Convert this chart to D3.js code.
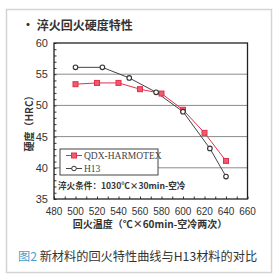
<!DOCTYPE html>
<html><head><meta charset="utf-8">
<script src="https://cdn.jsdelivr.net/npm/d3@7/dist/d3.min.js"></script>
<style>body{margin:0;background:#fff}svg{display:block}</style>
</head><body>
<script>
const seriesNames = ["QDX-HARMOTEX", "H13"];
const qdxTemps = [500, 520, 540, 560, 580, 600, 620, 640];
const qdxHardness = [53.4, 53.6, 53.6, 52.6, 51.9, 49.3, 45.6, 41.1];
const h13Temps = [500, 525, 550, 575, 600, 625, 640];
const h13Hardness = [56.1, 56.1, 54.4, 52.1, 49.0, 43.1, 38.6];
const xTicks = [480, 500, 520, 540, 560, 580, 600, 620, 640, 660];
const yTicks = [35, 40, 45, 50, 55, 60];
const gridValues = [40, 45, 50, 55];

const W = 278, H = 279;
const svg = d3.select("body").append("svg").attr("width", W).attr("height", H);
const cjk = "'Noto Sans CJK SC', sans-serif";

// outer frame
svg.append("rect").attr("x", 6.5).attr("y", 9.5).attr("width", 265).attr("height", 263)
  .attr("fill", "none").attr("stroke", "#d4d4d4").attr("stroke-width", 1.5);

const x = d3.scaleLinear().domain([480, 660]).range([54, 247.5]);
const y = d3.scaleLinear().domain([35, 60]).range([199, 43]);

// title
svg.append("text").attr("x", 22).attr("y", 30).attr("font-family", cjk).attr("font-weight", "bold")
  .attr("font-size", 12).attr("fill", "#333").text("· 淬火回火硬度特性");

// gridlines
svg.append("g").selectAll("line").data(gridValues).join("line")
  .attr("x1", x(480)).attr("x2", x(660)).attr("y1", d => y(d)).attr("y2", d => y(d))
  .attr("stroke", "#8a8a8a").attr("stroke-width", 1);

// minor/major ticks
const gx = svg.append("g").attr("transform", `translate(0,${y(35)})`)
  .call(d3.axisBottom(x).tickValues(d3.range(480, 661, 10)).tickSize(-2.5).tickFormat(""));
gx.select(".domain").remove();
gx.selectAll("line").attr("stroke", "#333");
const gy = svg.append("g").attr("transform", `translate(${x(480)},0)`)
  .call(d3.axisLeft(y).tickValues(d3.range(35, 61, 1)).tickSize(-2.5).tickFormat(""));
gy.select(".domain").remove();
gy.selectAll("line").attr("stroke", "#333");

// tick labels
svg.append("g").selectAll("text").data(xTicks).join("text")
  .attr("x", d => x(d)).attr("y", y(35) + 16).attr("text-anchor", "middle")
  .attr("font-family", "Arial, 'Liberation Sans', sans-serif").attr("font-size", 10).attr("fill", "#333")
  .text(d => d);
svg.append("g").selectAll("text").data(yTicks).join("text")
  .attr("x", x(480) - 6).attr("y", d => y(d) + 4).attr("text-anchor", "end")
  .attr("font-family", "Arial, 'Liberation Sans', sans-serif").attr("font-size", 11).attr("fill", "#333")
  .text(d => d);

// frame
svg.append("rect").attr("x", x(480)).attr("y", y(60)).attr("width", x(660) - x(480)).attr("height", y(35) - y(60))
  .attr("fill", "none").attr("stroke", "#222").attr("stroke-width", 1.3);

// axis titles
svg.append("text").attr("transform", `translate(33,${(y(35) + y(60)) / 2}) rotate(-90)`)
  .attr("text-anchor", "middle").attr("font-family", cjk).attr("font-weight", "bold").attr("font-size", 10)
  .attr("fill", "#333").text("硬度（HRC）");
svg.append("text").attr("x", 150).attr("y", 228).attr("text-anchor", "middle")
  .attr("font-family", cjk).attr("font-weight", "bold").attr("font-size", 10).attr("fill", "#333")
  .text("回火温度（℃×60min-空冷两次）");

// legend
svg.append("rect").attr("x", 60).attr("y", 149).attr("width", 98).attr("height", 26)
  .attr("fill", "#fff").attr("stroke", "#444").attr("stroke-width", 1);

const red = "#e2304c", dark = "#444";
const line = d3.line().x(d => x(d[0])).y(d => y(d[1]));
const qdx = qdxTemps.map((t, i) => [t, qdxHardness[i]]);
const h13 = h13Temps.map((t, i) => [t, h13Hardness[i]]);

svg.append("path").datum(h13).attr("d", line).attr("fill", "none").attr("stroke", dark).attr("stroke-width", 1);
svg.append("path").datum(qdx).attr("d", line).attr("fill", "none").attr("stroke", red).attr("stroke-width", 1);

svg.append("g").selectAll("rect").data(qdx).join("rect")
  .attr("x", d => x(d[0]) - 2.5).attr("y", d => y(d[1]) - 2.5).attr("width", 5).attr("height", 5)
  .attr("fill", "#ee5a70").attr("stroke", red).attr("stroke-width", 1);
svg.append("g").selectAll("circle").data(h13).join("circle")
  .attr("cx", d => x(d[0])).attr("cy", d => y(d[1])).attr("r", 2.3)
  .attr("fill", "#fff").attr("stroke", "#333").attr("stroke-width", 1.1);

// legend entries
const ly = [155.5, 168.5];
svg.append("line").attr("x1", 66).attr("x2", 82).attr("y1", ly[0]).attr("y2", ly[0]).attr("stroke", red);
svg.append("rect").attr("x", 71.5).attr("y", ly[0] - 2.5).attr("width", 5).attr("height", 5).attr("fill", "#ee5a70").attr("stroke", red);
svg.append("line").attr("x1", 66).attr("x2", 82).attr("y1", ly[1]).attr("y2", ly[1]).attr("stroke", dark);
svg.append("circle").attr("cx", 74).attr("cy", ly[1]).attr("r", 2.3).attr("fill", "#fff").attr("stroke", "#333");
svg.append("g").selectAll("text").data(seriesNames).join("text")
  .attr("x", 84).attr("y", (d, i) => ly[i] + 3.5)
  .attr("font-family", "'Liberation Serif', 'DejaVu Serif', serif").attr("font-size", 9.5).attr("fill", "#444")
  .text(d => d);

// annotation
svg.append("text").attr("x", 58).attr("y", 189).attr("font-family", cjk).attr("font-weight", "bold")
  .attr("font-size", 8.6).attr("fill", "#333").text("淬火条件：1030℃×30min-空冷");

// caption
const cap = svg.append("text").attr("x", 18).attr("y", 261).attr("font-family", cjk).attr("font-size", 12.2).attr("fill", "#333");
cap.append("tspan").attr("fill", "#4a9fd0").text("图2");
cap.append("tspan").text(" 新材料的回火特性曲线与H13材料的对比");
</script>
</body></html>
